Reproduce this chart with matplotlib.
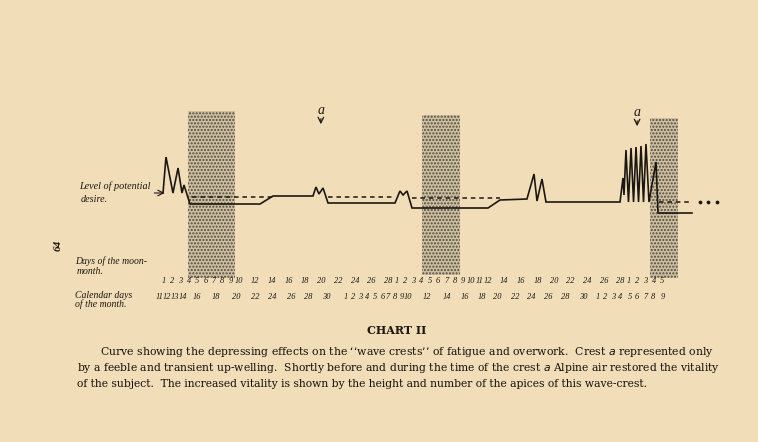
import matplotlib.pyplot as plt
from matplotlib.patches import Rectangle

# x = days counted from moon-day 1 of the first month, y = level (0 = potential desire)
curve_day = [-0.12, 0.24, 1.08, 1.69, 2.17, 2.41, 3.13, 11.57, 13.13, 17.95,
             18.31, 18.67, 19.16, 19.76, 27.83, 28.43, 28.80, 29.28, 29.88, 39.04,
             40.48, 43.73, 44.58, 44.94, 45.54, 46.02, 54.94, 55.30, 55.42, 55.66,
             55.96, 56.27, 56.57, 56.87, 57.17, 57.47, 57.77, 58.07, 58.43, 59.28,
             59.52, 63.61]
curve_level = [4, 40, 4, 29, 4, 12, -7, -7, 1, 1,
               10, 3, 9, -6, -6, 6, 2, 6, -11, -11,
               -3, -2, 23, -4, 18, -5, -5, 19, 2, 47,
               -5, 49, -5, 50, -5, 51, -5, 53, -5, 35,
               -16, -16]

# dashed "level of potential desire" pieces: (start, end, level)
desire_segments = [(3.4, 13.1, 0), (19.8, 27.8, 0), (29.9, 40.5, -1), (59.6, 63.6, -5)]
desire_dots_day = [64.6, 65.6, 66.6]
desire_dots_level = [-5, -5, -5]

# stippled periods: (start, end, top, bottom)
bands = [(2.9, 8.55, 86, -81), (31.1, 35.7, 82, -78), (58.55, 61.9, 79, -81)]

# crest marks "a"
crest_day = [18.9, 57.0]
crest_level = [87, 85]

moon_labels = [str(i) for i in range(1, 11)] + [str(i) for i in range(12, 29, 2)] \
    + [str(i) for i in range(1, 13)] + [str(i) for i in range(14, 29, 2)] \
    + [str(i) for i in range(1, 6)]
moon_pos = list(range(0, 10)) + list(range(11, 28, 2)) + list(range(28, 40)) \
    + list(range(41, 56, 2)) + list(range(56, 61))

cal_labels = ["11", "12", "13", "14", "16", "18", "20", "22", "24", "26", "28", "30",
              "1", "2", "3", "4", "5", "6", "7", "8", "9", "10", "12", "14", "16", "18",
              "20", "22", "24", "26", "28", "30", "1", "2", "3", "4", "5", "6", "7", "8", "9"]
cal_pos = [-0.5, 0.4, 1.3, 2.3, 4.0, 6.3, 8.7, 11.0, 13.1, 15.3, 17.4, 19.6,
           21.9, 22.8, 23.6, 24.5, 25.4, 26.3, 27.0, 27.8, 28.7, 29.4, 31.7, 34.1, 36.3, 38.3,
           40.2, 42.3, 44.3, 46.3, 48.3, 50.5, 52.3, 53.1, 54.1, 54.9, 56.1, 57.0, 58.0, 58.9, 60.1]

caption = [
    "Curve showing the depressing effects on the \u2018\u2018wave crests\u2019\u2019 of fatigue and overwork.  Crest $a$ represented only",
    "by a feeble and transient up-welling.  Shortly before and during the time of the crest $a$ Alpine air restored the vitality",
    "of the subject.  The increased vitality is shown by the height and number of the apices of this wave-crest.",
]

PAPER = "#f1deb8"
INK = "#1c1712"

fig = plt.figure(figsize=(7.58, 4.42), dpi=100, facecolor=PAPER)
ax = fig.add_axes([0, 0, 1, 1])
ax.set_facecolor(PAPER)
ax.set_xlim(-164 / 8.3, (758 - 164) / 8.3)
ax.set_ylim(-245, 197)
ax.axis("off")

plt.rcParams["hatch.linewidth"] = 1.0
for start, end, top, bottom in bands:
    ax.add_patch(Rectangle((start, bottom), end - start, top - bottom,
                           facecolor="#cebf9f", edgecolor="#4f4a43", lw=0,
                           hatch=".....", zorder=1))

ax.plot(curve_day, curve_level, color=INK, lw=1.2, zorder=3, solid_joinstyle="miter")
for start, end, lev in desire_segments:
    ax.plot([start, end], [lev, lev], color=INK, lw=1.1, ls=(0, (3, 2.5)), zorder=2)
ax.plot(desire_dots_day, desire_dots_level, "o", color=INK, ms=1.7, zorder=2)

hand = dict(family="Liberation Serif", style="italic", color=INK)
for d, lev in zip(crest_day, crest_level):
    ax.text(d, lev, "a", ha="center", va="center", fontsize=10, **hand)
    ax.annotate("", xy=(d, lev - 17), xytext=(d, lev - 6),
                arrowprops=dict(arrowstyle="->", color=INK, lw=0.9))

ax.text(-10.2, 11, "Level of potential", fontsize=7.3, va="center", **hand)
ax.text(-10.0, -2, "desire.", fontsize=7.3, va="center", **hand)
ax.annotate("", xy=(0.4, 4), xytext=(-1.5, 4),
            arrowprops=dict(arrowstyle="->", color=INK, lw=0.8))

ax.text(-10.7, -64, "Days of the moon-", fontsize=7, va="center", **hand)
ax.text(-10.5, -74, "month.", fontsize=7, va="center", **hand)
ax.text(-10.7, -98, "Calendar days", fontsize=7, va="center", **hand)
ax.text(-10.7, -107, "of the month.", fontsize=7, va="center", **hand)
ax.text(-12.8, -48, "64", fontsize=8, rotation=90, ha="center", va="center",
        weight="bold", **hand)

for lab, d in zip(moon_labels, moon_pos):
    ax.text(d, -84, lab, fontsize=6, ha="center", va="center", **hand)
for lab, d in zip(cal_labels, cal_pos):
    ax.text(d, -100, lab, fontsize=6, ha="center", va="center", **hand)

fig.text(397 / 758, 1 - 331 / 442, "CHART II", ha="center", va="center",
         family="DejaVu Serif", fontsize=8, weight="bold", color=INK)

# fit the caption lines to the printed column width
renderer = fig.canvas.get_renderer()
lefts = [100, 77, 77]
widths = [618, 641, None]
size = 7.0
for line, left, width, y in zip(caption, lefts, widths, [352, 368, 384]):
    t = fig.text(left / 758, 1 - y / 442, line, ha="left", va="center",
                 family="DejaVu Serif", fontsize=size, color="#15100b")
    if width is not None:
        w = t.get_window_extent(renderer).width
        size = size * width / w
        t.set_fontsize(size)

fig.savefig("out.png", dpi=100, facecolor=PAPER)
